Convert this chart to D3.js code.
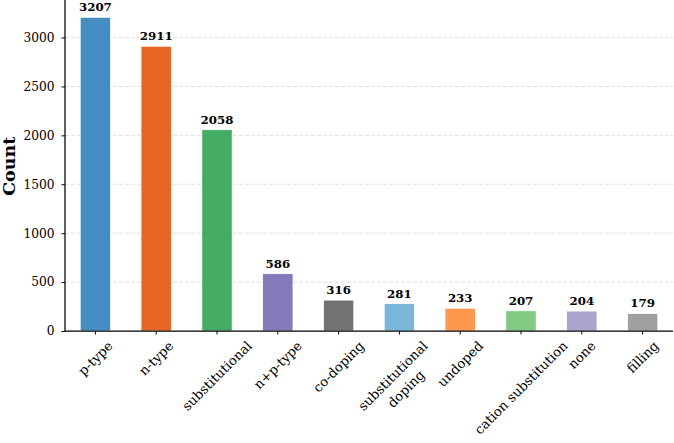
<!DOCTYPE html>
<html><head><meta charset="utf-8">
<script src="https://cdn.jsdelivr.net/npm/d3@7"></script>
<style>body{margin:0;background:#fff}svg{display:block}</style>
</head><body>
<svg id="c" width="674" height="443"></svg>
<script>
const categories = ["p-type","n-type","substitutional","n+p-type","co-doping","substitutional\ndoping","undoped","cation substitution","none","filling"];
const counts = [3207,2911,2058,586,316,281,233,207,204,179];
const colors = ["#3182bd","#e6550d","#31a354","#756bb1","#636363","#6baed6","#fd8d3c","#74c476","#9e9ac8","#969696"];
const yTicks = [0,500,1000,1500,2000,2500,3000];
const yLabel = "Count";

const svg = d3.select("#c");
const L = 65, R = 673, B = 331, T = 1.6;
const font = "'DejaVu Serif', serif";
const x = d3.scaleBand().domain(categories).range([L,R]).paddingInner(0.5).paddingOuter(0.25);
const y = d3.scaleLinear().domain([0, 3367.35]).range([B, T]);

svg.append("g").selectAll("line").data(yTicks.filter(d=>d>0)).join("line")
  .attr("x1",L).attr("x2",R).attr("y1",d=>y(d)).attr("y2",d=>y(d))
  .attr("stroke","#d9d9d9").attr("stroke-width",0.8).attr("stroke-dasharray","4,2");

svg.append("g").selectAll("rect").data(categories).join("rect")
  .attr("x",d=>x(d)).attr("width",x.bandwidth())
  .attr("y",(d,i)=>y(counts[i])).attr("height",(d,i)=>B-y(counts[i]))
  .attr("fill",(d,i)=>colors[i]).attr("fill-opacity",0.9)
  .attr("stroke","#fff").attr("stroke-width",0.8);

svg.append("g").selectAll("text").data(categories).join("text")
  .attr("x",d=>x(d)+x.bandwidth()/2).attr("y",(d,i)=>y(counts[i])-6)
  .attr("text-anchor","middle").style("font-family",font).style("font-weight","bold")
  .style("font-size","11.8px").attr("fill","#000").text((d,i)=>counts[i]);

const ya = svg.append("g").attr("transform",`translate(${L},0)`)
  .call(d3.axisLeft(y).tickValues(yTicks).tickSize(3.5).tickPadding(7).tickFormat(d3.format("d")));
ya.attr("font-family",null).attr("font-size",null);
ya.select(".domain").attr("stroke","#000").attr("stroke-width",1.25).attr("d",`M0,${T-2}V${B}`);
ya.selectAll(".tick line").attr("stroke","#000").attr("stroke-width",1);
ya.selectAll(".tick text").style("font-family",font).style("font-size","12.2px").attr("fill","#000");

const xa = svg.append("g").attr("transform",`translate(0,${B})`)
  .call(d3.axisBottom(x).tickSize(3.5).tickFormat(""));
xa.select(".domain").attr("stroke","#000").attr("stroke-width",1.25).attr("d",`M${L},0H${R}`);
xa.selectAll(".tick line").attr("stroke","#000").attr("stroke-width",1);

const fs = 13.2, lh = fs*1.164, gap = fs*1.164*1.2;
const lg = svg.append("g");
categories.forEach(c=>{
  const lines = c.split("\n");
  const t = lg.append("text").style("font-family",font).style("font-size",fs+"px").attr("fill","#000").attr("text-anchor","middle");
  const n = lines.length;
  lines.forEach((ln,k)=>{
    t.append("tspan").attr("x",0).attr("y",(k-(n-1)/2)*gap + (0.928-0.236)/2*fs).text(ln);
  });
  let w = 0;
  t.selectAll("tspan").each(function(){ w = Math.max(w, this.getComputedTextLength()); });
  const hTot = lh + (n-1)*gap;
  const half = (w + hTot)/(2*Math.SQRT2);
  const cx = x(c)+x.bandwidth()/2, cy = B + 7 + half;
  t.attr("transform",`translate(${cx},${cy}) rotate(-45)`);
});

svg.append("text").attr("transform",`translate(15,${(B+T)/2}) rotate(-90)`)
  .attr("text-anchor","middle").style("font-family",font).style("font-weight","bold")
  .style("font-size","17.5px").attr("fill","#000").text(yLabel);
</script>
</body></html>
